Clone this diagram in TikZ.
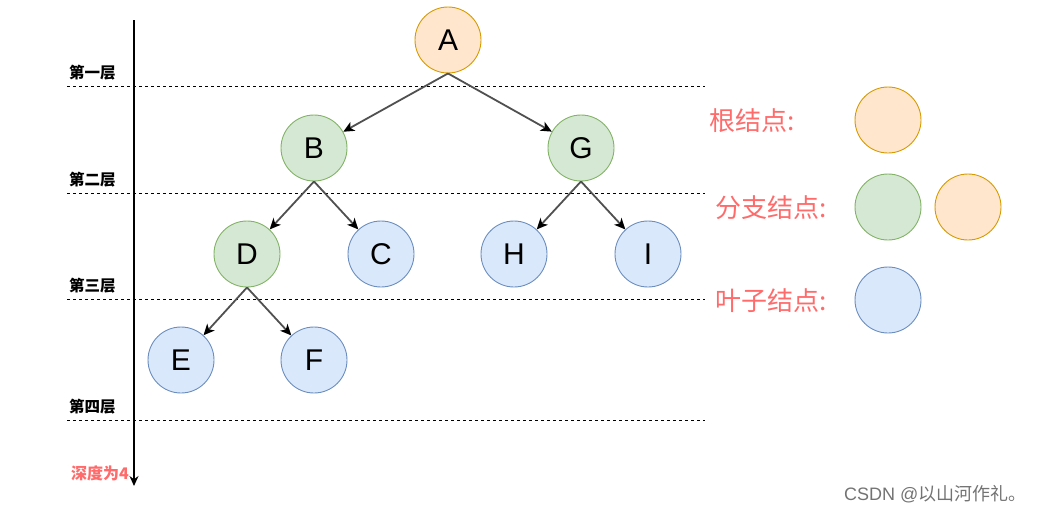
\documentclass[tikz,border=0pt]{standalone}
\usepackage{fontspec}
\setmainfont{Liberation Sans}
\newfontfamily\cjk{Noto Sans CJK SC}
\usetikzlibrary{arrows.meta}
\definecolor{orfill}{HTML}{FFE6CC}\definecolor{ordraw}{HTML}{D79B00}
\definecolor{grfill}{HTML}{D5E8D4}\definecolor{grdraw}{HTML}{82B366}
\definecolor{blfill}{HTML}{DAE8FC}\definecolor{bldraw}{HTML}{6C8EBF}
\definecolor{redtxt}{HTML}{FF6B6B}
\definecolor{edgec}{HTML}{505050}
\tikzset{
  tnode/.style={circle, minimum size=66pt, inner sep=0pt, line width=0.9pt, font=\fontsize{30}{30}\selectfont},
  rootn/.style={tnode, fill=orfill, draw=ordraw},
  branchn/.style={tnode, fill=grfill, draw=grdraw},
  leafn/.style={tnode, fill=blfill, draw=bldraw},
  edge/.style={draw=edgec, line width=1.8pt, -{Stealth[length=11pt,width=10pt,inset=3pt,color=black]}},
  layerline/.style={dashed, dash pattern=on 3pt off 3pt, line width=0.9pt},
  layerlbl/.style={anchor=west, font=\cjk\bfseries\fontsize{15.5}{15.5}\selectfont, inner sep=0pt},
  legendlbl/.style={anchor=west, text=redtxt, font=\cjk\fontsize{26}{26}\selectfont, inner sep=0pt},
}
\begin{document}
\begin{tikzpicture}[x=1pt,y=-1pt]
\useasboundingbox (0,0) rectangle (1038,514);
% layer lines
\coordinate (l1a) at (67,86);  \coordinate (l1b) at (705,86);
\coordinate (l2a) at (67,193); \coordinate (l2b) at (705,193);
\coordinate (l3a) at (67,299); \coordinate (l3b) at (705,299);
\coordinate (l4a) at (67,420); \coordinate (l4b) at (705,420);
\draw[layerline] (l1a) -- (l1b);
\draw[layerline] (l2a) -- (l2b);
\draw[layerline] (l3a) -- (l3b);
\draw[layerline] (l4a) -- (l4b);
\node[layerlbl] (t1) at (69,73) {第一层};
\node[layerlbl] (t2) at (69,180) {第二层};
\node[layerlbl] (t3) at (69,286) {第三层};
\node[layerlbl] (t4) at (69,407) {第四层};
% depth axis
\coordinate (ax0) at (134,20); \coordinate (ax1) at (134,486);
\draw[line width=1.2pt, -{Stealth[length=10pt,width=9pt]}] (ax0) -- (ax1);
\node[anchor=west, inner sep=0pt, text=redtxt, font=\cjk\bfseries\fontsize{16}{16}\selectfont] (depth) at (71,473) {深度为4};
% tree
\node[rootn] (A) at (448,40) {A};
\node[branchn] (B) at (314,148) {B};
\node[branchn] (G) at (581,148) {G};
\node[branchn] (D) at (247,254) {D};
\node[leafn] (C) at (381,254) {C};
\node[leafn] (H) at (514,254) {H};
\node[leafn] (I) at (648,254) {I};
\node[leafn] (E) at (181,360) {E};
\node[leafn] (F) at (314,360) {F};
\draw[edge] (A.south) -- (B);
\draw[edge] (A.south) -- (G);
\draw[edge] (B.south) -- (D);
\draw[edge] (B.south) -- (C);
\draw[edge] (G.south) -- (H);
\draw[edge] (G.south) -- (I);
\draw[edge] (D.south) -- (E);
\draw[edge] (D.south) -- (F);
% legend
\node[legendlbl] (lg1) at (709,121) {根结点:};
\node[legendlbl] (lg2) at (715,208) {分支结点:};
\node[legendlbl] (lg3) at (715,301) {叶子结点:};
\node[rootn] (r1) at (888,120) {};
\node[branchn] (r2) at (888,207) {};
\node[rootn] (r3) at (968,207) {};
\node[leafn] (r4) at (888,300) {};
% watermark
\node[anchor=west, inner sep=0pt, text=black!55, font=\cjk\fontsize{18}{18}\selectfont] (wm) at (844,494) {\fontspec{Liberation Sans}CSDN @\cjk 以山河作礼。};
\end{tikzpicture}
\end{document}
